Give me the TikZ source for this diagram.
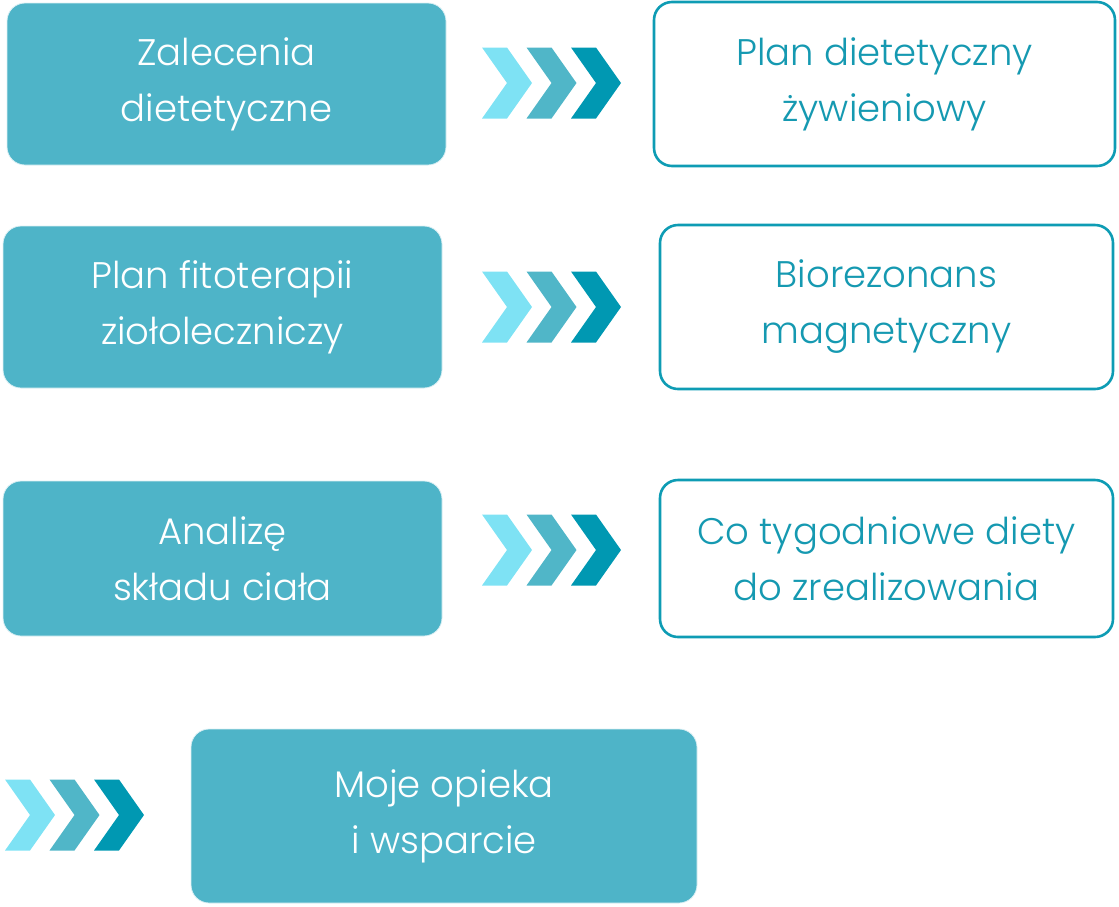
\documentclass[tikz,border=0pt]{standalone}
\usepackage{fontspec}
\setmainfont{Poppins Light}
\definecolor{boxfill}{HTML}{4EB4C8}
\definecolor{chevA}{HTML}{7EE2F4}
\definecolor{chevB}{HTML}{50B6C8}
\definecolor{chevC}{HTML}{0098B2}
\definecolor{outl}{HTML}{0E9CB4}
\definecolor{outtext}{HTML}{1599B1}
\tikzset{
  x=1pt, y=-1pt,
  txt/.style={align=center, font=\fontsize{37}{56}\selectfont},
  fbox/.style={txt, rectangle, rounded corners=18pt, fill=boxfill, draw=boxfill!20, line width=0.8pt, text=white, inner sep=0pt},
  obox/.style={txt, rectangle, rounded corners=18pt, fill=white, draw=outl, line width=2.6pt, text=outtext, inner sep=0pt},
}
\newcommand\mychev[3]{%
  \fill[#3] (#1,#2-35.5) -- ++(25,0) -- ++(25,35.5) -- ++(-25,35.5) -- ++(-25,0) -- ++(25,-35.5) -- cycle;}
\newcommand\mychevs[2]{%
  \mychev{#1}{#2}{chevA}\mychev{#1+44.5}{#2}{chevB}\mychev{#1+89}{#2}{chevC}}
\begin{document}
\begin{tikzpicture}
\useasboundingbox (0,0) rectangle (1119,906);
% row 1
\node[fbox, minimum width=439pt, minimum height=162pt] (z) at (226.5,84) {Zalecenia\\dietetyczne};
\node[obox, minimum width=461pt, minimum height=164pt] (pd) at (884.5,84) {Plan dietetyczny\\żywieniowy};
\mychevs{482}{83}
% row 2
\node[fbox, minimum width=439pt, minimum height=162pt] (pf) at (222.5,307) {Plan fitoterapii\\ziołoleczniczy};
\node[obox, minimum width=453pt, minimum height=164pt] (bm) at (886.5,307) {Biorezonans\\magnetyczny};
\mychevs{482}{307}
% row 3
\node[fbox, minimum width=439pt, minimum height=155pt] (as) at (222.5,558.5) {Analizę\\składu ciała};
\node[obox, minimum width=453pt, minimum height=157pt] (ct) at (886.5,558.5) {Co tygodniowe diety\\do zrealizowania};
\mychevs{482}{550}
% row 4
\node[fbox, minimum width=506pt, minimum height=174pt] (mo) at (444,816) {Moje opieka\\i wsparcie};
\mychevs{5}{815}
\end{tikzpicture}
\end{document}
